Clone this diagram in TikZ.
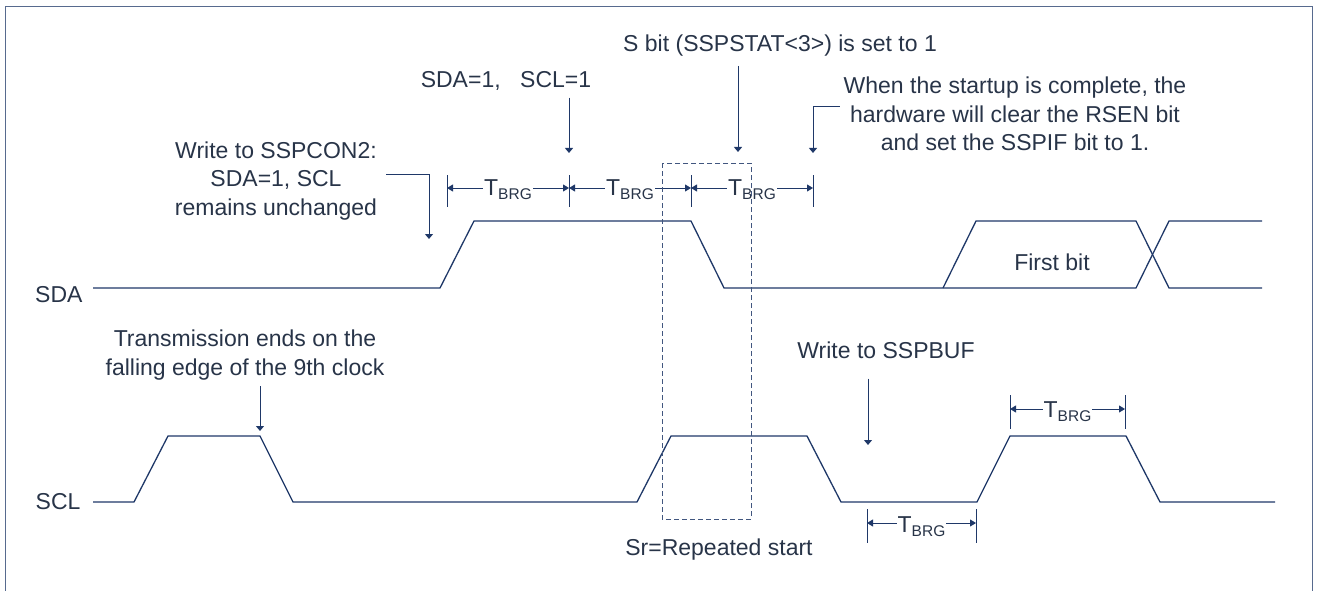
\documentclass[tikz,border=0pt]{standalone}
\usepackage{fontspec}
\setmainfont{Liberation Sans}
\usepackage{xcolor}
\usetikzlibrary{arrows.meta,positioning,calc}

\definecolor{wave}{RGB}{31,56,104}
\definecolor{inktext}{RGB}{40,52,72}
\newcommand{\tbrg}{T\raisebox{-4pt}{\fontsize{15.5}{15.5}\selectfont BRG}}

\begin{document}
\begin{tikzpicture}[
    x=1pt, y=-1pt,
    font=\fontsize{23}{28.5}\selectfont, text=inktext,
    sig/.style={draw=wave, line width=1.3pt, line join=miter},
    callout/.style={draw=wave, line width=1pt, -{Triangle[length=5pt,width=8pt]}},
    span/.style={draw=wave, line width=1pt, {Triangle[length=6pt,width=7pt]}-{Triangle[length=6pt,width=7pt]}},
    tick/.style={draw=wave, line width=1pt},
    lbl/.style={fill=white, inner sep=1pt, anchor=base},
    remark/.style={align=center, inner sep=0pt}
  ]
    \useasboundingbox (0,0) rectangle (1317,591);
    \draw[draw=wave!75, line width=1pt] (5,591) |- (1312,7) -- (1312,591);

    % signal names
    \node[anchor=east] (sda) at (86,295) {SDA};
    \node[anchor=east] (scl) at (84,502) {SCL};

    % SDA
    \draw[sig] (93,288) -- (440,288) -- (474,221) -- (691,221) -- (724,288) -- (1136,288) -- (1169,221) -- (1262,221);
    \draw[sig] (943,288) -- (976,221) -- (1136,221) -- (1169,288) -- (1262,288);
    \node (fbit) at (1052,262) {First bit};

    % SCL
    \draw[sig] (93,502) -- (134,502) -- (168,436) -- (260,436) -- (293,502) -- (637,502) -- (671,436)
      -- (807,436) -- (841,502) -- (977,502) -- (1010,436) -- (1126,436) -- (1160,502) -- (1275,502);

    % T_BRG spans
    \foreach \x [count=\i] in {447,569,691,813} {
      \coordinate (t\i) at (\x,188);
      \draw[tick] (\x,175) -- (\x,207);
    }
    \foreach \a/\b in {t1/t2,t2/t3,t3/t4}
      \draw[span] (\a) -- node[lbl, yshift=-7pt] {\tbrg} (\b);

    \coordinate (h1) at (1010,409);
    \coordinate (h2) at (1125,409);
    \draw[tick] (1010,395) -- (1010,429);
    \draw[tick] (1125,395) -- (1125,429);
    \draw[span] (h1) -- node[lbl, yshift=-8pt] {\tbrg} (h2);

    \coordinate (l1) at (867,523);
    \coordinate (l2) at (976,523);
    \draw[tick] (867,509) -- (867,543);
    \draw[tick] (976,509) -- (976,543);
    \draw[span] (l1) -- node[lbl, yshift=-9pt] {\tbrg} (l2);

    % notes
    \node[remark] (wcon) at (276,181) {Write to SSPCON2:\\SDA=1, SCL\\remains unchanged};
    \coordinate (wconend) at (429,239);
    \draw[callout] ([xshift=9pt,yshift=7pt]wcon.east) -| (wconend);

    \node[remark] (sdascl) at (506,81) {SDA=1,\hspace{0.85em}SCL=1};
    \draw[callout] ([yshift=-7pt]sdascl.south -| t2) -- ([yshift=35pt]t2);

    \node[remark] (sbit) at (780,46) {S bit (SSPSTAT<3>) is set to 1};
    \coordinate (sbitend) at (738,152);
    \draw[callout] ([yshift=-9pt]sbit.south -| sbitend) -- (sbitend);

    \node[remark] (rsen) at (1015,114) {When the startup is complete, the\\hardware will clear the RSEN bit\\and set the SSPIF bit to 1.};
    \coordinate (rsenend) at (813,153);
    \draw[callout] ([xshift=-4pt,yshift=7pt]rsen.west) -| (rsenend);

    \node[remark] (txend) at (245,355) {Transmission ends on the\\falling edge of the 9th clock};
    \coordinate (txendend) at (260,431);
    \draw[callout] ([yshift=-6pt]txend.south -| txendend) -- (txendend);

    \node[remark] (wbuf) at (886,350) {Write to SSPBUF};
    \coordinate (wbufend) at (868,445);
    \draw[callout] ([yshift=-20pt]wbuf.south -| wbufend) -- (wbufend);

    % repeated start window
    \draw[draw=wave!85, line width=1pt, dash pattern=on 5pt off 3pt] (662,163) rectangle (751,519);
    \node (sr) at (719,550) {Sr=Repeated start};
  \end{tikzpicture}
\end{document}
